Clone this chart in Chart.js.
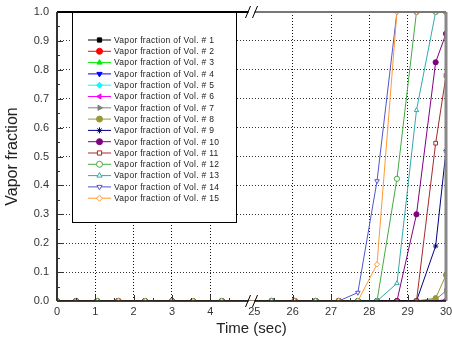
<!DOCTYPE html>
<html>
<head>
<meta charset="utf-8">
<script src="https://cdn.jsdelivr.net/npm/chart.js@4.4.0/dist/chart.umd.min.js"></script>
<style>
  html, body { margin: 0; padding: 0; background: #fff; }
  #wrap { width: 452px; height: 347px; }
</style>
</head>
<body>
<div id="wrap"><canvas id="vaporChart"></canvas></div>
<script>
// sample times (sec) shared by all volumes
const timeSec = [0, 0.5, 1.05, 1.6, 2.3, 3.0, 3.55, 4.3, 25.45, 26.05, 26.6, 27.2, 27.7, 28.2, 28.72, 29.23, 29.73, 30];

// vapor fraction per volume
const vol1  = [0, 0, 0, 0, 0, 0, 0, 0, 0, 0, 0, 0, 0, 0, 0, 0, 0, 0];
const vol2  = [0, 0, 0, 0, 0, 0, 0, 0, 0, 0, 0, 0, 0, 0, 0, 0, 0, 0];
const vol3  = [0, 0, 0, 0, 0, 0, 0, 0, 0, 0, 0, 0, 0, 0, 0, 0, 0, 0];
const vol4  = [0, 0, 0, 0, 0, 0, 0, 0, 0, 0, 0, 0, 0, 0, 0, 0, 0, 0];
const vol5  = [0, 0, 0, 0, 0, 0, 0, 0, 0, 0, 0, 0, 0, 0, 0, 0, 0, 0];
const vol6  = [0, 0, 0, 0, 0, 0, 0, 0, 0, 0, 0, 0, 0, 0, 0, 0, 0, 0.005];
const vol7  = [0, 0, 0, 0, 0, 0, 0, 0, 0, 0, 0, 0, 0, 0, 0, 0, 0.005, 0.035];
const vol8  = [0, 0, 0, 0, 0, 0, 0, 0, 0, 0, 0, 0, 0, 0, 0, 0, 0.01, 0.09];
const vol9  = [0, 0, 0, 0, 0, 0, 0, 0, 0, 0, 0, 0, 0, 0, 0, 0, 0.19, 0.52];
const vol10 = [0, 0, 0, 0, 0, 0, 0, 0, 0, 0, 0, 0, 0, 0, 0, 0.30, 0.826, 0.925];
const vol11 = [0, 0, 0, 0, 0, 0, 0, 0, 0, 0, 0, 0, 0, 0, 0, 0, 0.546, 0.78];
const vol12 = [0, 0, 0, 0, 0, 0, 0, 0, 0, 0, 0, 0, 0, 0, 0.423, 1.0, 1.0, 1.0];
const vol13 = [0, 0, 0, 0, 0, 0, 0, 0, 0, 0, 0, 0, 0, 0, 0.061, 0.66, 1.0, 1.0];
const vol14 = [0, 0, 0, 0, 0, 0, 0, 0, 0, 0, 0, 0, 0.029, 0.415, 1.0, 1.0, 1.0, 1.0];
const vol15 = [0, 0, 0, 0, 0, 0, 0, 0, 0, 0, 0, 0, 0, 0.127, 1.0, 1.0, 1.0, 1.0];

const seriesValues = [vol1, vol2, vol3, vol4, vol5, vol6, vol7, vol8, vol9, vol10, vol11, vol12, vol13, vol14, vol15];
const seriesNames = seriesValues.map((_, i) => 'Vapor fraction of Vol. # ' + (i + 1));

// x tick labels (broken axis 0..5 | 25..30)
const xTickTimes = [0, 1, 2, 3, 4, 25, 26, 27, 28, 29, 30];

const lineColors = ['#000000', '#ff0000', '#00ee00', '#0000ff', '#00ffff', '#ff00ff', '#808080', '#999933',
                    '#000080', '#800080', '#a52a2a', '#44aa44', '#33aaaa', '#5555cc', '#ff9933'];
const markerStyles = ['rect', 'circle', 'triangle', 'triangle', 'rectRot', 'triangle', 'triangle', 'circle',
                      'star', 'circle', 'rect', 'circle', 'triangle', 'triangle', 'rectRot'];
const markerRotation = [0, 0, 0, 180, 0, -90, 90, 0, 0, 0, 0, 0, 0, 180, 0];
const markerFilled = [true, true, true, true, true, true, true, true, true, true, false, false, false, false, false];

// broken axis mapping: 0..5 stays, 25..30 is pulled left
const BREAK_LO = 5, BREAK_HI = 25, GAP = 0.15;
function toAxis(t) { return t <= BREAK_LO ? t : t - BREAK_HI + BREAK_LO + GAP; }
function fromAxis(v) { return v <= BREAK_LO + GAP / 2 ? v : v + BREAK_HI - BREAK_LO - GAP; }

const datasets = seriesValues.map((vals, i) => ({
    label: seriesNames[i],
    data: timeSec.map((t, k) => ({ x: toAxis(t), y: vals[k] })),
    borderColor: lineColors[i],
    borderWidth: 1,
    pointStyle: markerStyles[i],
    pointRotation: markerRotation[i],
    pointRadius: 2.6,
    pointBorderWidth: 1,
    pointBorderColor: lineColors[i],
    pointBackgroundColor: markerFilled[i] ? lineColors[i] : '#ffffff',
    tension: 0,
    order: seriesValues.length - i   // last volume on top
}));

const framePlugin = {
    id: 'frame',
    afterDatasetsDraw(chart) {
        const ctx = chart.ctx;
        const a = chart.chartArea;
        const xs = chart.scales.x, ys = chart.scales.y;
        const bx = xs.getPixelForValue(BREAK_LO + GAP / 2);
        ctx.save();

        // right and top borders
        ctx.strokeStyle = '#888';
        ctx.lineWidth = 3;
        ctx.beginPath(); ctx.moveTo(a.right, a.top); ctx.lineTo(a.right, a.bottom); ctx.stroke();
        ctx.lineWidth = 2;
        ctx.strokeStyle = '#000';
        ctx.beginPath(); ctx.moveTo(a.left, a.top); ctx.lineTo(bx - 3, a.top); ctx.stroke();
        ctx.strokeStyle = '#777';
        ctx.beginPath(); ctx.moveTo(bx + 3, a.top); ctx.lineTo(a.right, a.top); ctx.stroke();

        // bottom axis
        ctx.strokeStyle = '#000';
        ctx.lineWidth = 1.5;
        ctx.beginPath(); ctx.moveTo(a.left, a.bottom); ctx.lineTo(bx - 3, a.bottom); ctx.stroke();
        ctx.beginPath(); ctx.moveTo(bx + 3, a.bottom); ctx.lineTo(a.right, a.bottom); ctx.stroke();

        // left axis
        ctx.strokeStyle = '#333';
        ctx.lineWidth = 2;
        ctx.beginPath(); ctx.moveTo(a.left, a.top); ctx.lineTo(a.left, a.bottom); ctx.stroke();

        // inner tick marks
        ctx.lineWidth = 1;
        ctx.strokeStyle = '#333';
        for (let k = 1; k < 20; k++) {
            const y = Math.round(ys.getPixelForValue(k / 20)) + 0.5;
            const len = k % 2 === 0 ? 6 : 3;
            ctx.beginPath(); ctx.moveTo(a.left, y); ctx.lineTo(a.left + len, y); ctx.stroke();
        }
        for (let k = 1; k < 10; k++) {
            [0, BREAK_HI].forEach(base => {
                const x = Math.round(xs.getPixelForValue(toAxis(base + k / 2))) + 0.5;
                const len = k % 2 === 0 ? 6 : 3;
                ctx.beginPath(); ctx.moveTo(x, a.bottom); ctx.lineTo(x, a.bottom - len); ctx.stroke();
            });
        }

        // break marks
        ctx.strokeStyle = '#000';
        ctx.lineWidth = 1;
        [a.top, a.bottom].forEach(y => {
            [-3.5, 3.5].forEach(off => {
                ctx.beginPath();
                ctx.moveTo(bx + off - 2.5, y + 6);
                ctx.lineTo(bx + off + 2.5, y - 6);
                ctx.stroke();
            });
        });

        // legend box
        const lx = a.left + 15, ly = a.top, lw = 164, lh = 210;
        ctx.fillStyle = '#fff';
        ctx.fillRect(lx, ly, lw, lh);
        ctx.strokeStyle = '#000';
        ctx.lineWidth = 1;
        ctx.strokeRect(lx + 0.5, ly + 0.5, lw, lh);
        ctx.font = '8.5px "Liberation Sans", Arial, sans-serif';
        ctx.letterSpacing = '0.3px';
        ctx.textBaseline = 'middle';
        chart.data.datasets.forEach((ds, i) => {
            const y = ly + 28 + i * 11.3;
            ctx.strokeStyle = ds.borderColor;
            ctx.lineWidth = 1;
            ctx.beginPath(); ctx.moveTo(lx + 16, y); ctx.lineTo(lx + 39, y); ctx.stroke();
            ctx.fillStyle = ds.pointBackgroundColor;
            ctx.strokeStyle = ds.pointBorderColor;
            Chart.helpers.drawPoint(ctx, {
                pointStyle: ds.pointStyle, rotation: ds.pointRotation, radius: 3, borderWidth: 1
            }, lx + 27.5, y);
            ctx.fillStyle = '#222';
            ctx.fillText(ds.label, lx + 42, y + 0.5);
        });
        ctx.restore();
    }
};

const ctx = document.getElementById('vaporChart').getContext('2d');
const vaporChart = new Chart(ctx, {
    type: 'line',
    data: { datasets: datasets },
    options: {
        responsive: true,
        maintainAspectRatio: false,
        animation: false,
        devicePixelRatio: 1,
        layout: { padding: { left: 0, right: 6, top: 12, bottom: 0 } },
        plugins: { legend: { display: false }, tooltip: { enabled: false } },
        scales: {
            x: {
                type: 'linear',
                min: 0,
                max: toAxis(30),
                afterBuildTicks: scale => { scale.ticks = xTickTimes.map(t => ({ value: toAxis(t) })); },
                afterFit: scale => { scale.height = 46; scale.paddingLeft = 0; scale.paddingRight = 0; },
                ticks: {
                    autoSkip: false,
                    maxRotation: 0,
                    padding: 4,
                    color: '#333',
                    font: { family: '"Liberation Sans", Arial, sans-serif', size: 11 },
                    callback: v => String(Math.round(fromAxis(v)))
                },
                grid: {
                    drawTicks: false,
                    color: c => (c.index === 0 || c.index === 5 || c.index === 10) ? 'rgba(0,0,0,0)' : '#111',
                    lineWidth: 1
                },
                border: { display: false, dash: [1, 2] },
                title: {
                    display: true,
                    text: 'Time (sec)',
                    color: '#222',
                    font: { family: '"Liberation Sans", Arial, sans-serif', size: 15 },
                    padding: { top: 4, bottom: 9 }
                }
            },
            y: {
                min: 0,
                max: 1,
                afterFit: scale => { scale.width = 57; scale.paddingTop = 0; scale.paddingBottom = 0; },
                ticks: {
                    stepSize: 0.1,
                    padding: 8,
                    color: '#333',
                    font: { family: '"Liberation Sans", Arial, sans-serif', size: 11 },
                    callback: v => v.toFixed(1)
                },
                grid: {
                    drawTicks: false,
                    color: c => (c.index === 0 || c.index === 10) ? 'rgba(0,0,0,0)' : '#333',
                    lineWidth: 1
                },
                border: { display: false, dash: [1, 2] },
                title: {
                    display: true,
                    text: 'Vapor fraction',
                    color: '#222',
                    font: { family: '"Liberation Sans", Arial, sans-serif', size: 16 },
                    padding: { top: 3, bottom: 0 }
                }
            }
        }
    },
    plugins: [framePlugin]
});
</script>
</body>
</html>
